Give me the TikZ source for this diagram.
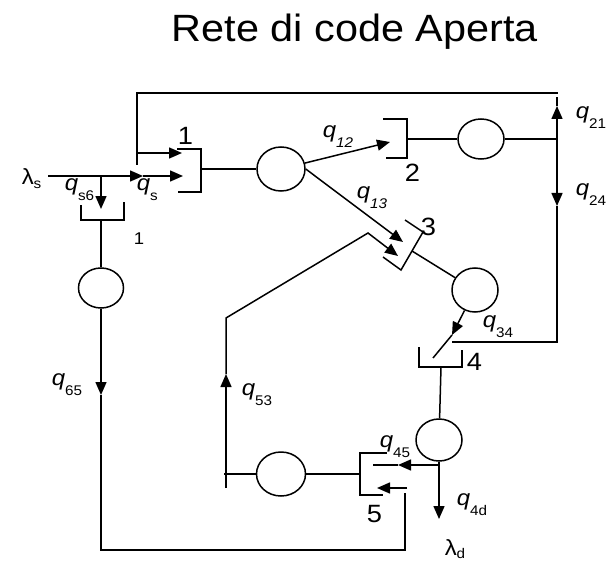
\documentclass[tikz,border=0pt]{standalone}
\usepackage{fontspec}
\setmainfont{Liberation Sans}[FakeStretch=1.09]
\usetikzlibrary{shapes.geometric,arrows.meta}

\newcommand{\qlab}[1]{\textit{q}\raisebox{-10pt}{\fontsize{14}{14}\selectfont #1}}
\newcommand{\lamlab}[1]{λ\raisebox{-3.5pt}{\fontsize{14}{14}\selectfont #1}}

\begin{document}
\begin{tikzpicture}[
    x=1pt, y=-1pt,
    line width=1.5pt,
    queue/.style={draw, ellipse, minimum width=46pt, minimum height=42pt, inner sep=0pt},
    lbl/.style={anchor=base west, inner sep=0pt, font=\fontsize{22}{26}\selectfont},
    num/.style={anchor=base west, inner sep=0pt, font=\fontsize{25}{30}\selectfont},
    arr/.style={-{Triangle[length=13pt,width=11pt]}}
]
    \useasboundingbox (0,0) rectangle (609,561);

    % Title
    \node[anchor=base, inner sep=0pt, font=\fontsize{38}{44}\selectfont] (title) at (355,42) {Rete di code Aperta};

    % Queues
    \node[queue, minimum width=48pt, minimum height=44pt] (c1) at (281,169) {};
    \node[queue, minimum height=40pt] (c2) at (481,139) {};
    \node[queue, minimum height=44pt] (c3) at (475,290) {};
    \node[queue] (c4) at (439,440) {};
    \node[queue, minimum width=49pt, minimum height=44pt] (c5) at (281,474) {};
    \node[queue, minimum width=45pt, minimum height=40pt] (c6) at (101,288) {};

    % Buffers
    \draw (177,149) -| (201,192) -- (178,192);
    \draw (383,119) -| (407,158) -- (386,158);
    \draw (405,220) -- (423,232) -- (401,270) -- (383,257);
    \draw (419,347) |- (462,367) -- (462,350);
    \draw (387,453) -| (360,495) -- (383,495);
    \draw (81,205) |- (124,220) -- (124,202);

    % Points on the lines
    \coordinate (lin) at (48,176);
    \coordinate (split) at (143,176);
    \coordinate (in1) at (183,176);
    \coordinate (j6) at (101,176);
    \coordinate (in6) at (101,209);
    \coordinate (fbs) at (137,165);
    \coordinate (fbj) at (137,153);
    \coordinate (fb1) at (182,153);
    \coordinate (top2) at (558,93);
    \coordinate (b1) at (201,169);
    \coordinate (in2) at (390,142);
    \coordinate (in3a) at (403,242);
    \coordinate (b2) at (407,139);
    \coordinate (j2) at (557,139);
    \coordinate (u2) at (557,106);
    \coordinate (rt) at (557,97);
    \coordinate (d2) at (557,206);
    \coordinate (rb) at (557,342);
    \coordinate (e4) at (452,342);
    \coordinate (b3) at (412,251);
    \coordinate (m34) at (452,335);
    \coordinate (e34) at (433,358);
    \coordinate (b4) at (441,367);
    \coordinate (out4) at (439,519);
    \coordinate (j4) at (439,465);
    \coordinate (m45) at (398,465);
    \coordinate (in5) at (373,465);
    \coordinate (b5) at (360,474);
    \coordinate (j5) at (224,474);
    \coordinate (v5b) at (226,488);
    \coordinate (v5a) at (226,374);
    \coordinate (v5t) at (226,318);
    \coordinate (k3) at (368,233);
    \coordinate (in3b) at (398,256);
    \coordinate (b6) at (101,220);
    \coordinate (m65) at (101,395);
    \coordinate (br) at (405,550);
    \coordinate (brt) at (405,493);
    \coordinate (a5s) at (407,488);
    \coordinate (a5e) at (377,488);

    % Arrivals and feedback to 1
    \draw[arr] (lin) -- (split);
    \draw[arr] (split) -- (in1);
    \draw[arr] (j6) -- (in6);
    \draw (fbs) |- (top2);
    \draw[arr] (fbj) -- (fb1);
    \draw (b1) -- (c1);

    % Routing from 1
    \draw[arr] (c1) -- (in2);
    \draw[arr] (c1.east) -- (in3a);

    % Queue 2
    \draw (b2) -- (c2);
    \draw (c2) -- (j2);
    \draw[arr] (j2) -- (u2);
    \draw (u2) -- (rt);
    \draw[arr] (j2) -- (d2);
    \draw (d2) -- (rb) -- (e4);

    % Queue 3
    \draw (b3) -- (c3);
    \draw[arr] (c3) -- (m34);
    \draw (m34) -- (e34);

    % Queue 4
    \draw (b4) -- (c4);
    \draw[arr] (c4) -- (out4);
    \draw[arr] (j4) -- (m45);
    \draw (m45) -- (in5);

    % Queue 5
    \draw (b5) -- (c5);
    \draw (c5) -- (j5);
    \draw[arr] (v5b) -- (v5a);
    \draw[arr] (v5a) -- (v5t) -- (k3) -- (in3b);

    % Queue 6
    \draw (b6) -- (c6);
    \draw[arr] (c6) -- (m65);
    \draw (m65) |- (br) -- (brt);
    \draw[arr] (a5s) -- (a5e);

    % Labels
    \node[num] (n1) at (177,145) {1};
    \node[num] (n2) at (404,182) {2};
    \node[num] (n3) at (420,235) {3};
    \node[num] (n4) at (466,370) {4};
    \node[num] (n5) at (366,522) {5};
    \node[anchor=base west, inner sep=0pt, font=\fontsize{17}{20}\selectfont] (n6) at (133,244) {1};

    \node[lbl] (ls) at (21,185) {\lamlab{s}};
    \node[lbl] (qs6) at (64,190) {\qlab{s6}};
    \node[lbl] (qs) at (136,190) {\qlab{s}};
    \node[lbl] (q12) at (322,138) {\qlab{\textit{12}}};
    \node[lbl] (q13) at (356,198) {\qlab{\textit{13}}};
    \node[lbl] (q21) at (575,119) {\qlab{21}};
    \node[lbl] (q24) at (575,195) {\qlab{24}};
    \node[lbl] (q34) at (482,327) {\qlab{34}};
    \node[lbl] (q53) at (241,395) {\qlab{53}};
    \node[lbl] (q65) at (51,385) {\qlab{65}};
    \node[lbl] (q45) at (379,447) {\qlab{45}};
    \node[lbl] (q4d) at (456,505) {\qlab{4d}};
    \node[lbl] (ld) at (444,555) {\lamlab{d}};
\end{tikzpicture}
\end{document}
